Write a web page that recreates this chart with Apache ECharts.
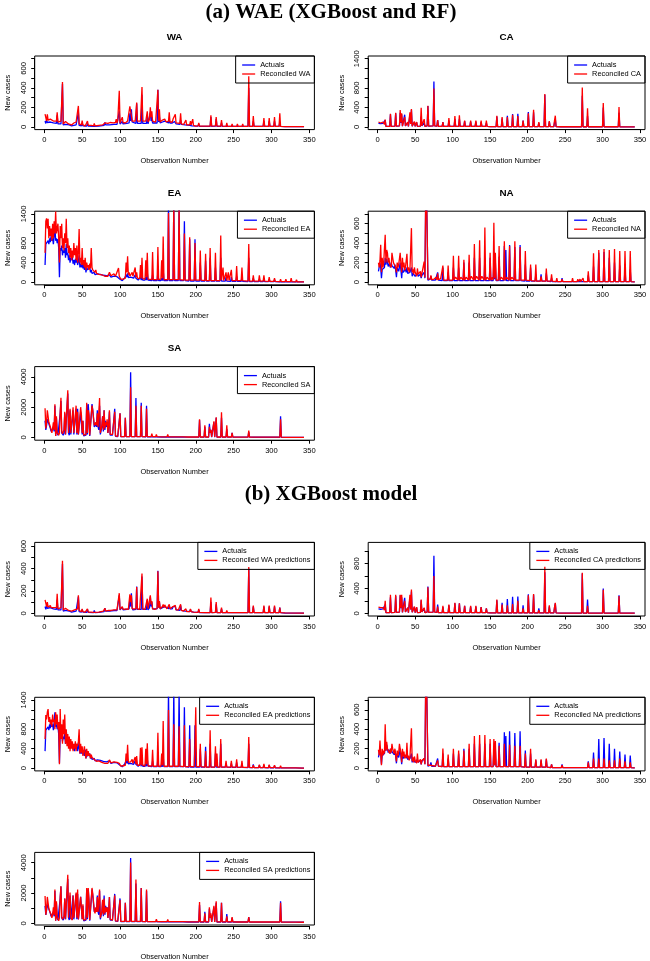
<!DOCTYPE html>
<html>
<head>
<meta charset="utf-8">
<script src="https://cdn.jsdelivr.net/npm/echarts@6/dist/echarts.min.js"></script>
<style>
  html, body { margin: 0; padding: 0; background: #fff; }
  #chart { width: 650px; height: 961px; }
</style>
</head>
<body>
<div id="chart"></div>
<script>
// observation axis
var obsRange = [1, 343];
var xTicks = [0, 50, 100, 150, 200, 250, 300, 350];

// y ticks / labelled ticks
var yTicks700 = [0, 100, 200, 300, 400, 500, 600, 700];
var yTicks600 = [0, 100, 200, 300, 400, 500, 600];
var yLab200 = [0, 200, 400, 600];
var yTicks1400 = [0, 200, 400, 600, 800, 1000, 1200, 1400];
var yLab1400 = [0, 400, 800, 1400];
var yTicks1000 = [0, 200, 400, 600, 800, 1000];
var yLab1000 = [0, 400, 800];
var yTicks4000 = [0, 1000, 2000, 3000, 4000];
var yLab4000 = [0, 2000, 4000];

// series: flat lists of observation, value
var waActual = [1,60, 2,35, 3,70, 4,45, 6,40, 8,50, 10,35, 12,40, 14,30, 16,35, 17,120, 18,30, 20,25, 22,30, 23,25, 24,440, 25,20, 28,25, 30,15, 33,20, 36,10, 39,15, 42,20, 44,25, 45,150, 46,15, 49,10, 50,35, 51,10, 56,8, 57,35, 58,8, 65,5, 66,25, 67,5, 72,8, 73,25, 74,8, 79,15, 80,45, 81,20, 86,20, 87,30, 88,20, 92,25, 94,35, 96,25, 98,35, 99,160, 100,30, 102,35, 103,55, 104,30, 109,35, 110,45, 111,30, 112,40, 113,140, 114,60, 115,180, 116,50, 117,30, 121,35, 122,240, 123,35, 128,35, 129,330, 130,35, 135,35, 136,120, 137,30, 139,50, 140,150, 141,60, 142,100, 143,40, 149,40, 150,380, 151,50, 152,100, 153,40, 156,50, 157,60, 158,40, 159,60, 160,45, 164,40, 165,70, 166,40, 169,40, 170,60, 171,45, 172,55, 173,60, 174,30, 179,25, 180,70, 181,25, 186,20, 187,35, 188,15, 192,15, 193,35, 194,15, 195,10, 196,25, 197,10, 203,8, 204,30, 205,5, 212,5, 213,10, 214,5, 219,5, 220,100, 221,5, 226,8, 227,80, 228,5, 233,5, 234,40, 235,5, 240,5, 241,20, 242,5, 247,5, 248,15, 249,5, 254,5, 255,15, 256,5, 261,5, 262,15, 263,5, 269,5, 270,400, 271,5, 275,5, 276,60, 277,5, 283,5, 284,15, 285,5, 289,5, 290,60, 291,5, 296,5, 297,60, 298,5, 303,5, 304,60, 305,5, 310,5, 311,50, 312,5, 318,2, 319,10, 320,2, 343,2];
var waRecA = [1,130, 2,120, 3,60, 4,130, 5,70, 6,60, 8,80, 9,60, 10,70, 12,60, 13,45, 14,55, 16,60, 17,150, 18,50, 20,50, 22,60, 23,40, 24,460, 25,30, 26,40, 28,55, 30,40, 32,30, 34,35, 36,20, 38,25, 39,40, 41,35, 42,50, 43,30, 44,60, 45,215, 46,30, 48,30, 49,20, 50,65, 51,20, 54,10, 56,20, 57,60, 58,15, 62,15, 65,10, 66,35, 67,10, 72,15, 73,35, 74,10, 77,20, 79,30, 80,40, 81,25, 84,35, 86,25, 87,45, 88,30, 91,40, 93,30, 94,45, 95,80, 96,40, 97,70, 98,60, 99,370, 100,40, 101,50, 102,45, 103,100, 104,45, 106,60, 107,40, 110,60, 111,40, 112,60, 113,210, 114,200, 115,210, 116,60, 117,40, 120,60, 121,50, 122,250, 123,60, 124,45, 127,60, 128,50, 129,410, 130,60, 131,45, 134,60, 135,50, 136,160, 137,50, 138,60, 139,80, 140,200, 141,100, 142,160, 143,60, 144,45, 147,50, 149,60, 150,380, 151,60, 152,180, 153,50, 154,40, 156,70, 157,80, 158,60, 159,80, 160,70, 161,50, 164,60, 165,150, 166,50, 169,50, 170,80, 171,60, 172,70, 173,130, 174,40, 176,35, 179,35, 180,140, 181,30, 184,25, 186,30, 187,70, 188,20, 190,20, 192,20, 193,60, 194,20, 195,15, 196,80, 197,15, 200,8, 203,10, 204,40, 205,8, 212,8, 213,15, 214,8, 219,8, 220,120, 221,8, 226,10, 227,100, 228,8, 233,8, 234,70, 235,8, 240,5, 241,40, 242,5, 247,5, 248,30, 249,5, 254,5, 255,30, 256,5, 261,5, 262,30, 263,5, 269,5, 270,520, 271,5, 275,5, 276,110, 277,5, 283,5, 284,20, 285,5, 289,5, 290,90, 291,5, 296,5, 297,90, 298,5, 303,5, 304,100, 305,5, 310,5, 311,140, 312,5, 318,3, 319,15, 320,3, 343,2];
var waRecB = [1,120, 2,90, 3,60, 4,100, 5,55, 6,50, 8,70, 9,50, 10,60, 12,50, 14,45, 16,50, 17,175, 18,40, 20,45, 22,50, 23,35, 24,470, 25,30, 27,25, 28,45, 30,30, 32,25, 34,30, 36,20, 38,25, 40,30, 42,35, 44,40, 45,160, 46,25, 48,20, 49,15, 50,40, 51,15, 54,10, 56,15, 57,40, 58,10, 62,10, 65,8, 66,25, 67,8, 72,10, 73,25, 74,10, 78,20, 79,25, 80,45, 81,20, 85,25, 86,20, 87,35, 88,25, 92,30, 94,35, 96,30, 97,40, 98,45, 99,180, 100,35, 102,40, 103,60, 104,35, 108,40, 110,50, 111,35, 112,50, 113,170, 114,100, 115,160, 116,40, 118,35, 121,40, 122,235, 123,40, 126,35, 128,40, 129,355, 130,40, 133,35, 135,40, 136,130, 137,40, 139,50, 140,160, 141,80, 142,110, 143,40, 146,35, 149,45, 150,375, 151,50, 152,110, 153,40, 155,40, 156,60, 157,80, 158,50, 159,75, 160,60, 162,40, 164,50, 165,80, 166,40, 168,40, 170,60, 171,45, 172,55, 173,70, 174,30, 177,30, 179,30, 180,80, 181,25, 184,20, 186,20, 187,40, 188,15, 192,15, 193,40, 194,15, 195,10, 196,30, 197,10, 203,8, 204,40, 205,8, 212,5, 213,15, 214,5, 219,5, 220,140, 221,5, 226,8, 227,100, 228,5, 233,5, 234,50, 235,5, 240,5, 241,25, 242,5, 247,5, 248,20, 249,5, 254,5, 255,20, 256,5, 261,5, 262,20, 263,5, 269,5, 270,415, 271,5, 275,5, 276,70, 277,5, 283,5, 284,15, 285,5, 289,5, 290,70, 291,5, 296,5, 297,70, 298,5, 303,5, 304,70, 305,5, 310,5, 311,50, 312,5, 318,3, 319,10, 320,3, 343,2];

var caActual = [1,70, 2,60, 3,75, 4,65, 5,80, 6,60, 7,70, 8,90, 9,40, 10,140, 11,10, 16,10, 17,260, 18,10, 23,15, 24,280, 25,15, 29,20, 30,290, 31,80, 32,260, 33,15, 35,20, 36,250, 37,20, 39,15, 40,90, 41,10, 42,20, 43,250, 44,60, 45,350, 46,15, 48,10, 49,100, 50,10, 51,15, 52,90, 53,10, 57,15, 58,210, 59,20, 60,10, 61,40, 62,80, 63,10, 66,20, 67,430, 68,15, 74,20, 75,930, 76,20, 79,15, 80,140, 81,10, 86,10, 87,100, 88,10, 94,10, 95,130, 96,10, 102,10, 103,160, 104,10, 108,10, 109,160, 110,10, 115,10, 116,120, 117,10, 123,10, 124,110, 125,10, 130,10, 131,110, 132,10, 137,10, 138,100, 139,10, 144,10, 145,80, 146,10, 150,5, 151,15, 152,5, 158,5, 159,210, 160,5, 165,5, 166,170, 167,5, 172,5, 173,230, 174,5, 179,5, 180,265, 181,5, 186,5, 187,270, 188,5, 193,5, 194,130, 195,5, 200,5, 201,305, 202,5, 207,5, 208,300, 209,5, 214,5, 215,80, 216,5, 222,5, 223,660, 224,5, 228,5, 229,110, 230,5, 235,5, 236,100, 237,160, 238,5, 244,3, 245,10, 246,3, 251,3, 252,10, 253,3, 272,3, 273,640, 274,3, 279,3, 280,220, 281,3, 286,3, 287,25, 288,3, 293,3, 294,30, 295,3, 300,3, 301,400, 302,3, 308,3, 309,20, 310,3, 315,3, 316,10, 317,3, 321,3, 322,290, 323,3, 343,2];
var caRecA = [1,100, 2,90, 3,110, 4,80, 5,100, 6,70, 7,100, 8,120, 9,50, 10,150, 11,10, 16,10, 17,270, 18,10, 23,15, 24,290, 25,15, 29,20, 30,345, 31,90, 32,280, 33,15, 35,20, 36,200, 37,20, 39,15, 40,100, 41,10, 42,20, 43,300, 44,60, 45,366, 46,15, 48,10, 49,110, 50,10, 51,15, 52,100, 53,10, 57,15, 58,393, 59,20, 60,10, 61,50, 62,160, 63,10, 66,20, 67,435, 68,15, 74,20, 75,790, 76,20, 79,15, 80,140, 81,10, 86,10, 87,100, 88,10, 94,10, 95,180, 96,10, 102,10, 103,220, 104,10, 108,10, 109,240, 110,10, 115,10, 116,130, 117,10, 123,10, 124,130, 125,10, 130,10, 131,130, 132,10, 137,10, 138,130, 139,10, 144,10, 145,130, 146,10, 150,5, 151,20, 152,5, 158,5, 159,230, 160,5, 165,5, 166,200, 167,5, 172,5, 173,200, 174,5, 179,5, 180,250, 181,5, 186,5, 187,220, 188,5, 193,5, 194,130, 195,5, 200,5, 201,280, 202,5, 207,5, 208,350, 209,5, 214,5, 215,100, 216,5, 222,5, 223,676, 224,5, 228,5, 229,120, 230,5, 235,5, 236,140, 237,230, 238,5, 244,3, 245,10, 246,3, 251,3, 252,15, 253,3, 272,3, 273,807, 274,3, 279,3, 280,380, 281,3, 286,3, 287,30, 288,3, 293,3, 294,40, 295,3, 300,3, 301,490, 302,3, 308,3, 309,30, 310,3, 315,3, 316,30, 317,3, 321,3, 322,407, 323,3, 343,2];
var caRecB = [1,100, 2,80, 3,130, 4,90, 5,110, 6,80, 7,90, 8,110, 9,50, 10,200, 11,10, 16,10, 17,300, 18,10, 23,15, 24,300, 25,15, 29,20, 30,300, 31,90, 32,300, 33,15, 35,20, 36,200, 37,20, 39,15, 40,90, 41,10, 42,20, 43,300, 44,60, 45,384, 46,15, 48,10, 49,110, 50,10, 51,15, 52,100, 53,10, 57,15, 58,220, 59,20, 60,10, 61,40, 62,90, 63,10, 66,20, 67,420, 68,15, 74,20, 75,600, 76,20, 79,15, 80,110, 81,10, 86,10, 87,120, 88,10, 94,10, 95,140, 96,10, 102,10, 103,170, 104,10, 108,10, 109,160, 110,10, 115,10, 116,120, 117,10, 123,10, 124,120, 125,10, 130,10, 131,120, 132,10, 137,10, 138,100, 139,10, 144,10, 145,80, 146,10, 150,5, 151,20, 152,5, 158,5, 159,220, 160,5, 165,5, 166,140, 167,5, 172,5, 173,130, 174,5, 179,5, 180,150, 181,5, 186,5, 187,200, 188,5, 193,5, 194,80, 195,5, 200,5, 201,290, 202,5, 207,5, 208,310, 209,5, 214,5, 215,50, 216,5, 222,5, 223,750, 224,5, 228,5, 229,130, 230,5, 235,5, 236,100, 237,170, 238,5, 244,3, 245,10, 246,3, 251,3, 252,10, 253,3, 272,3, 273,654, 274,3, 279,3, 280,120, 281,3, 286,3, 287,30, 288,3, 293,3, 294,30, 295,3, 300,3, 301,380, 302,3, 308,3, 309,20, 310,3, 315,3, 316,10, 317,3, 321,3, 322,280, 323,3, 343,2];

var eaActual = [1,350, 2,780, 3,820, 4,800, 5,850, 6,780, 7,900, 8,820, 9,950, 10,850, 11,900, 12,780, 13,950, 14,1150, 15,850, 16,900, 17,800, 18,880, 19,700, 20,100, 21,700, 22,650, 23,750, 24,550, 25,650, 26,600, 27,700, 28,500, 29,780, 30,550, 31,600, 32,450, 33,550, 34,400, 35,500, 36,450, 37,520, 38,380, 39,450, 40,350, 41,480, 42,400, 43,500, 44,350, 45,420, 46,550, 47,300, 48,380, 49,300, 50,420, 51,280, 52,350, 53,250, 54,380, 55,200, 56,300, 57,250, 58,280, 59,220, 60,300, 61,200, 62,250, 63,180, 64,220, 65,160, 66,200, 67,150, 68,180, 69,140, 70,170, 72,130, 74,160, 76,120, 78,140, 80,100, 82,130, 84,90, 86,150, 88,100, 90,80, 92,120, 94,90, 96,110, 98,120, 100,60, 101,40, 102,50, 103,30, 104,50, 105,40, 106,80, 107,60, 108,150, 109,100, 110,180, 111,90, 112,120, 114,100, 116,130, 118,80, 120,150, 121,80, 122,120, 123,60, 124,40, 126,60, 127,100, 128,40, 129,150, 130,40, 133,40, 134,100, 135,40, 136,200, 137,40, 142,30, 143,150, 144,30, 149,30, 150,200, 151,30, 154,30, 155,80, 156,30, 157,250, 158,30, 163,30, 164,1600, 165,30, 170,30, 171,1600, 172,30, 177,30, 178,1600, 179,30, 184,30, 185,1250, 186,30, 191,20, 192,880, 193,20, 198,20, 199,880, 200,20, 205,20, 206,400, 207,20, 212,20, 213,440, 214,20, 218,20, 219,500, 220,20, 225,20, 226,300, 227,20, 232,20, 233,500, 234,20, 239,20, 240,100, 241,20, 246,15, 247,100, 248,15, 253,15, 254,120, 255,15, 260,15, 261,100, 262,15, 269,10, 270,500, 271,10, 275,10, 276,80, 277,10, 283,10, 284,60, 285,10, 289,10, 290,60, 291,10, 296,8, 297,60, 298,8, 303,8, 304,50, 305,8, 311,5, 312,40, 313,5, 318,5, 319,40, 320,5, 325,5, 326,40, 327,5, 332,5, 333,30, 334,5, 339,3, 340,15, 341,3, 343,3];
var eaRecA = [1,600, 2,1250, 3,1310, 4,1100, 5,1300, 6,900, 7,1150, 8,950, 9,1100, 10,850, 11,1200, 12,900, 13,1250, 14,1000, 15,1450, 16,1000, 17,1100, 18,1200, 19,900, 20,400, 21,1150, 22,900, 23,1200, 24,700, 25,900, 26,650, 27,1000, 28,800, 29,1300, 30,700, 31,900, 32,600, 33,750, 34,500, 35,700, 36,450, 37,650, 38,500, 39,800, 40,550, 41,700, 42,450, 43,750, 44,400, 45,600, 46,1090, 47,400, 48,500, 49,350, 50,700, 51,350, 52,450, 53,300, 54,500, 55,250, 56,400, 57,300, 58,350, 59,250, 60,380, 61,280, 62,700, 63,300, 64,250, 65,220, 66,280, 67,200, 68,250, 69,180, 70,200, 72,160, 74,190, 76,150, 78,170, 80,120, 82,160, 84,120, 86,200, 88,130, 90,110, 92,170, 94,120, 96,150, 98,290, 99,120, 100,80, 101,60, 102,70, 103,40, 104,60, 105,50, 106,100, 107,80, 108,400, 109,200, 110,530, 111,150, 112,200, 113,120, 114,150, 115,100, 116,200, 117,120, 118,150, 119,100, 120,300, 121,100, 122,200, 123,80, 124,60, 125,80, 126,70, 127,350, 128,80, 129,500, 130,70, 131,50, 133,60, 134,450, 135,100, 136,600, 137,60, 142,50, 143,620, 144,50, 149,50, 150,720, 151,50, 154,60, 155,450, 156,80, 157,935, 158,50, 163,50, 164,1420, 165,50, 170,50, 171,1600, 172,50, 177,50, 178,1600, 179,50, 184,40, 185,1000, 186,40, 191,40, 192,920, 193,40, 198,40, 199,800, 200,40, 205,40, 206,650, 207,40, 212,30, 213,580, 214,30, 218,30, 219,700, 220,30, 225,30, 226,600, 227,30, 232,30, 233,955, 234,40, 235,40, 236,300, 237,30, 239,30, 240,200, 241,30, 242,30, 243,200, 244,30, 246,30, 247,250, 248,30, 253,30, 254,330, 255,30, 260,30, 261,300, 262,30, 269,20, 270,780, 271,20, 275,20, 276,140, 277,20, 283,20, 284,140, 285,20, 289,20, 290,140, 291,20, 296,15, 297,100, 298,15, 303,15, 304,80, 305,15, 311,10, 312,60, 313,10, 318,10, 319,60, 320,10, 325,10, 326,80, 327,10, 332,5, 333,50, 334,5, 339,5, 340,20, 341,5, 343,5];
var eaRecB = [1,600, 2,1090, 3,1000, 4,1150, 5,1215, 6,950, 7,1050, 8,900, 9,1000, 10,850, 11,1100, 12,950, 13,1000, 14,800, 15,1150, 16,900, 17,1100, 18,800, 19,950, 20,82, 21,1215, 22,600, 23,900, 24,500, 25,1000, 26,700, 27,1100, 28,500, 29,800, 30,450, 31,700, 32,400, 33,650, 34,350, 35,600, 36,400, 37,550, 38,350, 39,500, 40,400, 41,550, 42,350, 43,500, 44,450, 45,550, 46,800, 47,300, 48,500, 49,320, 50,450, 51,250, 52,350, 53,450, 54,280, 55,200, 56,400, 57,250, 58,350, 59,250, 60,300, 61,200, 62,280, 63,220, 64,250, 65,200, 66,180, 67,160, 68,200, 69,140, 70,160, 72,150, 74,180, 76,120, 78,150, 80,100, 82,140, 84,100, 86,170, 88,110, 90,90, 92,130, 94,100, 96,120, 98,130, 99,100, 100,60, 101,40, 102,50, 103,30, 104,50, 105,40, 106,80, 107,60, 108,300, 109,150, 110,480, 111,120, 112,150, 113,100, 114,130, 115,90, 116,180, 117,100, 118,120, 119,80, 120,230, 121,80, 122,250, 123,60, 124,50, 125,70, 126,60, 127,420, 128,60, 129,430, 130,60, 131,40, 133,50, 134,400, 135,80, 136,512, 137,50, 142,40, 143,380, 144,40, 149,40, 150,730, 151,40, 154,40, 155,300, 156,60, 157,970, 158,40, 163,40, 164,1195, 165,40, 170,40, 171,900, 172,40, 177,40, 178,860, 179,40, 184,30, 185,880, 186,30, 191,30, 192,600, 193,30, 198,30, 199,500, 200,1250, 201,30, 205,30, 206,500, 207,30, 212,20, 213,350, 214,20, 218,20, 219,780, 220,20, 225,20, 226,450, 227,30, 228,300, 229,20, 232,20, 233,600, 234,20, 239,20, 240,150, 241,20, 246,20, 247,150, 248,20, 253,20, 254,180, 255,20, 260,15, 261,150, 262,15, 269,15, 270,640, 271,15, 275,10, 276,60, 277,10, 283,10, 284,70, 285,10, 289,10, 290,90, 291,10, 296,10, 297,70, 298,10, 303,10, 304,60, 305,10, 311,8, 312,50, 313,8, 318,8, 319,40, 320,8, 325,5, 326,40, 327,5, 332,5, 333,40, 334,5, 343,3];

var naActual = [1,110, 2,120, 3,200, 4,150, 5,40, 6,130, 7,140, 8,120, 9,150, 10,250, 11,180, 12,240, 13,200, 14,160, 15,190, 16,180, 17,150, 18,200, 19,170, 20,190, 21,160, 22,140, 23,180, 24,120, 25,50, 26,150, 27,130, 28,110, 29,150, 30,200, 31,120, 32,40, 33,150, 34,100, 35,120, 36,80, 37,130, 38,100, 39,150, 40,90, 41,110, 42,70, 43,100, 44,80, 45,150, 46,60, 47,90, 48,70, 49,100, 50,60, 51,80, 52,50, 53,90, 54,60, 55,70, 56,50, 57,80, 58,40, 59,70, 60,50, 61,60, 62,100, 63,40, 64,800, 65,1000, 66,1000, 67,20, 70,30, 71,60, 72,20, 77,20, 78,40, 79,20, 80,100, 81,20, 86,15, 87,150, 88,15, 93,15, 94,100, 95,15, 100,15, 101,150, 102,15, 107,15, 108,150, 109,15, 114,15, 115,200, 116,15, 121,15, 122,200, 123,15, 128,15, 129,250, 130,15, 135,15, 136,250, 137,15, 142,15, 143,250, 144,15, 149,15, 150,250, 151,15, 154,15, 155,200, 156,30, 157,200, 158,15, 161,15, 162,260, 163,15, 168,15, 169,370, 170,15, 171,330, 172,15, 175,15, 176,380, 177,15, 182,15, 183,360, 184,15, 189,15, 190,380, 191,15, 196,10, 197,180, 198,10, 203,10, 204,150, 205,10, 210,10, 211,80, 212,10, 217,10, 218,80, 219,10, 224,10, 225,90, 226,10, 231,5, 232,40, 233,5, 238,5, 239,20, 240,5, 245,5, 246,40, 247,5, 252,5, 253,20, 254,5, 259,5, 260,20, 261,5, 266,5, 267,20, 268,5, 273,5, 274,20, 275,5, 280,5, 281,70, 282,5, 287,5, 288,160, 289,5, 294,5, 295,300, 296,5, 301,5, 302,310, 303,5, 308,5, 309,250, 310,5, 315,5, 316,200, 317,5, 322,5, 323,170, 324,5, 329,5, 330,140, 331,5, 336,5, 337,130, 338,5, 343,3];
var naRecA = [1,200, 2,150, 3,220, 4,383, 5,100, 6,250, 7,150, 8,200, 9,180, 10,485, 11,200, 12,330, 13,300, 14,200, 15,250, 16,180, 17,200, 18,150, 19,300, 20,250, 21,200, 22,180, 23,220, 24,150, 25,100, 26,200, 27,150, 28,180, 29,200, 30,300, 31,180, 32,100, 33,250, 34,150, 35,200, 36,120, 37,150, 38,130, 39,290, 40,120, 41,150, 42,100, 43,130, 44,120, 45,554, 46,100, 47,130, 48,80, 49,150, 50,100, 51,120, 52,60, 53,140, 54,80, 55,100, 56,60, 57,110, 58,50, 59,90, 60,70, 61,80, 62,210, 63,50, 64,850, 65,1000, 66,1000, 67,30, 69,40, 70,30, 71,70, 72,25, 75,30, 77,25, 78,50, 79,20, 80,90, 81,25, 84,35, 86,20, 87,170, 88,20, 90,40, 93,20, 94,170, 95,20, 97,40, 100,20, 101,270, 102,25, 104,50, 107,20, 108,270, 109,20, 111,50, 114,20, 115,230, 116,20, 118,50, 121,20, 122,280, 123,20, 125,60, 128,20, 129,390, 130,20, 132,60, 135,20, 136,430, 137,20, 139,60, 142,20, 143,560, 144,20, 146,50, 149,20, 150,300, 151,20, 153,50, 154,20, 155,610, 156,40, 157,300, 158,20, 161,20, 162,370, 163,20, 165,50, 168,20, 169,420, 170,20, 172,50, 175,20, 176,370, 177,20, 179,50, 182,20, 183,420, 184,20, 186,40, 189,20, 190,360, 191,20, 193,40, 196,20, 197,320, 198,20, 203,15, 204,180, 205,15, 210,10, 211,180, 212,10, 217,10, 218,60, 219,10, 224,10, 225,140, 226,10, 231,10, 232,80, 233,10, 238,5, 239,40, 240,5, 245,5, 246,30, 247,5, 252,5, 253,20, 254,5, 259,5, 260,40, 261,5, 266,5, 267,30, 268,5, 269,5, 270,30, 271,5, 273,5, 274,40, 275,5, 280,5, 281,110, 282,5, 287,5, 288,297, 289,5, 294,5, 295,330, 296,5, 301,5, 302,340, 303,5, 308,5, 309,330, 310,5, 315,5, 316,340, 317,5, 322,5, 323,320, 324,5, 329,5, 330,320, 331,5, 336,5, 337,320, 338,5, 343,3];
var naRecB = [1,190, 2,130, 3,284, 4,150, 5,30, 6,200, 7,130, 8,180, 9,150, 10,451, 11,180, 12,270, 13,200, 14,180, 15,220, 16,150, 17,200, 18,160, 19,250, 20,200, 21,180, 22,150, 23,200, 24,130, 25,70, 26,180, 27,130, 28,160, 29,250, 30,200, 31,150, 32,60, 33,200, 34,120, 35,170, 36,100, 37,140, 38,110, 39,260, 40,100, 41,130, 42,80, 43,110, 44,100, 45,410, 46,70, 47,110, 48,60, 49,120, 50,80, 51,100, 52,50, 53,150, 54,60, 55,80, 56,50, 57,90, 58,40, 59,80, 60,60, 61,70, 62,100, 63,40, 64,850, 65,1000, 66,1000, 67,30, 70,30, 71,50, 72,20, 77,20, 78,40, 79,15, 80,80, 81,20, 86,15, 87,202, 88,15, 93,15, 94,140, 95,15, 100,15, 101,200, 102,15, 107,15, 108,180, 109,15, 114,15, 115,180, 116,15, 121,15, 122,250, 123,15, 128,15, 129,330, 130,15, 135,15, 136,340, 137,15, 142,15, 143,340, 144,15, 149,15, 150,300, 151,15, 154,15, 155,300, 156,30, 157,280, 158,15, 161,15, 162,230, 163,15, 168,15, 169,250, 170,15, 175,15, 176,240, 177,15, 182,15, 183,230, 184,15, 189,15, 190,230, 191,15, 196,10, 197,150, 198,10, 203,10, 204,200, 205,10, 210,10, 211,90, 212,10, 217,10, 218,90, 219,10, 224,10, 225,100, 226,10, 231,5, 232,40, 233,5, 238,5, 239,20, 240,5, 245,5, 246,30, 247,5, 252,5, 253,20, 254,5, 259,5, 260,20, 261,5, 266,5, 267,20, 268,5, 273,5, 274,20, 275,5, 280,5, 281,60, 282,5, 287,5, 288,100, 289,5, 294,5, 295,100, 296,5, 301,5, 302,100, 303,5, 308,5, 309,80, 310,5, 315,5, 316,80, 317,5, 322,5, 323,100, 324,5, 329,5, 330,70, 331,5, 336,5, 337,60, 338,5, 343,3];

var saActual = [1,1100, 2,500, 3,800, 4,1200, 5,1200, 6,900, 7,1000, 8,600, 9,400, 10,300, 11,500, 12,700, 13,400, 14,2100, 15,100, 16,1300, 17,300, 18,150, 19,100, 20,200, 21,1600, 22,2400, 23,300, 24,200, 25,150, 26,300, 27,1600, 28,200, 29,100, 30,150, 31,2900, 32,300, 33,150, 34,1800, 35,200, 36,150, 37,100, 38,1800, 39,200, 40,300, 41,150, 42,1900, 43,200, 44,1900, 45,200, 46,150, 47,100, 48,1700, 49,1700, 50,200, 51,1100, 52,100, 53,80, 54,100, 55,150, 56,2200, 57,200, 58,2200, 59,1400, 60,100, 61,80, 62,100, 63,2200, 64,1800, 65,1800, 66,700, 67,600, 68,900, 69,700, 70,1800, 71,700, 72,500, 73,2100, 74,200, 75,300, 76,700, 77,1400, 78,400, 79,1800, 80,500, 81,1100, 82,700, 83,1000, 84,300, 85,800, 86,1700, 87,150, 88,100, 89,100, 90,150, 91,80, 92,100, 93,1900, 94,80, 95,60, 96,50, 97,60, 98,50, 99,80, 100,1600, 101,50, 106,50, 107,1300, 108,50, 113,50, 114,4300, 115,50, 120,50, 121,2600, 122,50, 127,50, 128,2300, 129,50, 134,40, 135,2100, 136,40, 141,40, 142,150, 143,40, 147,40, 148,150, 149,40, 155,30, 156,50, 157,30, 162,30, 163,150, 164,30, 169,30, 170,120, 171,30, 176,30, 177,80, 178,30, 183,30, 184,80, 185,30, 190,20, 191,60, 192,20, 197,20, 198,100, 199,20, 204,20, 205,1150, 206,20, 211,20, 212,700, 213,20, 217,20, 218,900, 219,300, 220,500, 221,20, 223,20, 224,1000, 225,20, 226,20, 227,1300, 228,20, 233,20, 234,1300, 235,20, 240,20, 241,550, 242,20, 247,20, 248,300, 249,20, 255,20, 256,50, 257,20, 262,20, 263,50, 264,20, 269,20, 270,350, 271,20, 276,15, 277,50, 278,15, 290,15, 291,50, 292,15, 304,15, 305,100, 306,15, 311,15, 312,1400, 313,15, 318,10, 319,50, 320,10, 325,10, 326,50, 327,10, 332,10, 333,80, 334,10, 343,5];
var saRecA = [1,1930, 2,600, 3,1000, 4,1800, 5,1820, 6,1000, 7,1000, 8,700, 9,500, 10,310, 11,600, 12,1000, 13,500, 14,2200, 15,100, 16,1400, 17,300, 18,200, 19,150, 20,300, 21,1700, 22,2620, 23,400, 24,250, 25,200, 26,500, 27,1700, 28,200, 29,100, 30,300, 31,3110, 32,300, 33,200, 34,1900, 35,300, 36,200, 37,200, 38,2000, 39,300, 40,400, 41,200, 42,2100, 43,300, 44,1700, 45,200, 46,200, 47,150, 48,2000, 49,1500, 50,300, 51,1100, 52,150, 53,100, 54,100, 55,200, 56,2300, 57,300, 58,1800, 59,1500, 60,150, 61,100, 62,100, 63,2100, 64,1800, 65,1700, 66,800, 67,700, 68,1000, 69,800, 70,1600, 71,700, 72,600, 73,2600, 74,300, 75,400, 76,800, 77,1400, 78,500, 79,1800, 80,600, 81,1000, 82,800, 83,1200, 84,300, 85,800, 86,1800, 87,200, 88,150, 89,100, 90,200, 91,100, 92,120, 93,1700, 94,100, 95,80, 96,60, 97,80, 98,60, 99,100, 100,1600, 101,60, 106,60, 107,1300, 108,60, 113,60, 114,3310, 115,60, 120,60, 121,2100, 122,60, 127,60, 128,2100, 129,60, 134,50, 135,1900, 136,50, 141,50, 142,250, 143,50, 147,50, 148,200, 149,50, 155,40, 156,60, 157,40, 162,40, 163,200, 164,40, 169,40, 170,150, 171,40, 176,40, 177,80, 178,40, 183,40, 184,80, 185,40, 190,30, 191,60, 192,30, 197,30, 198,60, 199,30, 204,30, 205,1200, 206,30, 211,30, 212,800, 213,30, 217,30, 218,700, 219,300, 220,500, 221,30, 223,30, 224,1070, 225,30, 226,30, 227,1330, 228,30, 233,30, 234,1670, 235,30, 240,30, 241,800, 242,30, 247,30, 248,300, 249,30, 255,20, 256,50, 257,20, 262,20, 263,50, 264,20, 269,20, 270,450, 271,20, 276,20, 277,50, 278,20, 290,20, 291,50, 292,20, 304,20, 305,80, 306,20, 311,20, 312,1200, 313,20, 318,10, 319,50, 320,10, 325,10, 326,50, 327,10, 332,10, 333,100, 334,10, 343,5];
var saRecB = [1,1760, 2,500, 3,900, 4,1700, 5,1700, 6,900, 7,1000, 8,800, 9,500, 10,300, 11,500, 12,1000, 13,500, 14,2200, 15,100, 16,1400, 17,300, 18,200, 19,100, 20,300, 21,1700, 22,2420, 23,400, 24,200, 25,200, 26,400, 27,1600, 28,200, 29,100, 30,200, 31,3190, 32,300, 33,200, 34,2000, 35,300, 36,200, 37,150, 38,1800, 39,300, 40,300, 41,200, 42,2000, 43,300, 44,2200, 45,200, 46,150, 47,150, 48,1700, 49,1800, 50,200, 51,1200, 52,150, 53,100, 54,100, 55,200, 56,2300, 57,300, 58,2300, 59,1500, 60,150, 61,100, 62,100, 63,2300, 64,1900, 65,1900, 66,800, 67,600, 68,1000, 69,700, 70,1700, 71,700, 72,600, 73,2200, 74,300, 75,400, 76,700, 77,1500, 78,500, 79,1600, 80,600, 81,1000, 82,700, 83,1000, 84,300, 85,800, 86,1700, 87,200, 88,150, 89,100, 90,150, 91,100, 92,100, 93,1800, 94,100, 95,80, 96,60, 97,80, 98,60, 99,100, 100,1500, 101,60, 106,60, 107,1300, 108,60, 113,60, 114,4000, 115,60, 120,60, 121,2860, 122,60, 127,60, 128,2300, 129,60, 134,50, 135,2200, 136,50, 141,50, 142,150, 143,50, 147,50, 148,200, 149,50, 155,40, 156,60, 157,40, 162,40, 163,200, 164,40, 169,40, 170,150, 171,40, 176,40, 177,100, 178,40, 183,40, 184,100, 185,40, 190,30, 191,60, 192,30, 197,30, 198,50, 199,30, 204,30, 205,1360, 206,30, 211,30, 212,600, 213,30, 217,30, 218,1000, 219,300, 220,600, 221,30, 223,30, 224,1100, 225,30, 226,30, 227,1400, 228,30, 233,30, 234,1300, 235,30, 240,30, 241,400, 242,30, 247,30, 248,350, 249,30, 255,20, 256,50, 257,20, 262,20, 263,50, 264,20, 269,20, 270,350, 271,20, 276,20, 277,50, 278,20, 290,20, 291,50, 292,20, 304,20, 305,60, 306,20, 311,20, 312,1300, 313,20, 318,10, 319,50, 320,10, 325,10, 326,50, 327,10, 332,10, 333,80, 334,10, 343,5];

var sectionTitles = ['(a) WAE (XGBoost and RF)', '(b) XGBoost model'];

var panels = [
  {title: 'WA', act: waActual, rec: waRecA, recName: 'Reconciled WA', row: 0, col: 0, yLim: 700, yTicks: yTicks700, yLabels: yLab200},
  {title: 'CA', act: caActual, rec: caRecA, recName: 'Reconciled CA', row: 0, col: 1, yLim: 1400, yTicks: yTicks1400, yLabels: yLab1400},
  {title: 'EA', act: eaActual, rec: eaRecA, recName: 'Reconciled EA', row: 1, col: 0, yLim: 1400, yTicks: yTicks1400, yLabels: yLab1400},
  {title: 'NA', act: naActual, rec: naRecA, recName: 'Reconciled NA', row: 1, col: 1, yLim: 700, yTicks: yTicks700, yLabels: yLab200},
  {title: 'SA', act: saActual, rec: saRecA, recName: 'Reconciled SA', row: 2, col: 0, yLim: 4500, yTicks: yTicks4000, yLabels: yLab4000},
  {title: '', act: waActual, rec: waRecB, recName: 'Reconciled WA predictions', row: 3, col: 0, yLim: 610, yTicks: yTicks600, yLabels: yLab200},
  {title: '', act: caActual, rec: caRecB, recName: 'Reconciled CA predictions', row: 3, col: 1, yLim: 1100, yTicks: yTicks1000, yLabels: yLab1000},
  {title: '', act: eaActual, rec: eaRecB, recName: 'Reconciled EA predictions', row: 4, col: 0, yLim: 1400, yTicks: yTicks1400, yLabels: yLab1400},
  {title: '', act: naActual, rec: naRecB, recName: 'Reconciled NA predictions', row: 4, col: 1, yLim: 700, yTicks: yTicks700, yLabels: yLab200},
  {title: '', act: saActual, rec: saRecB, recName: 'Reconciled SA predictions', row: 5, col: 0, yLim: 4500, yTicks: yTicks4000, yLabels: yLab4000}
];

// layout (pixels)
var colLeft = [34.7, 368.2], colWidth = [279.7, 276.8];
var rowTop = [56, 211.2, 366.6, 542.4, 697.3, 852.4], boxH = 73.6;
var FONT = '"Liberation Sans", Arial, sans-serif';
var BLUE = '#0000ff', RED = '#ff0000';

function toPairs(flat) {
  var out = [];
  for (var i = 0; i < flat.length; i += 2) out.push([flat[i], flat[i + 1]]);
  return out;
}

var grid = [], xAxis = [], yAxis = [], series = [], legend = [], graphic = [];
var blk = '#000';

panels.forEach(function (p) {
  var L = colLeft[p.col], W = colWidth[p.col], T = rowTop[p.row], H = boxH;
  var xPad = (obsRange[1] - obsRange[0]) * 0.04;
  var xMin = obsRange[0] - xPad, xMax = obsRange[1] + xPad;
  var yMin = -0.04 * p.yLim, yMax = 1.04 * p.yLim;

  // plotting box
  var g = grid.length;
  grid.push({left: L, top: T, width: W, height: H, show: true, borderColor: blk, borderWidth: 1, backgroundColor: 'transparent'});
  xAxis.push({gridIndex: g, type: 'value', min: xMin, max: xMax,
    axisLine: {show: false}, axisTick: {show: false}, axisLabel: {show: false}, splitLine: {show: false},
    name: 'Observation Number', nameLocation: 'middle', nameGap: 28,
    nameTextStyle: {fontSize: 7.4, color: blk, fontFamily: FONT}});
  yAxis.push({gridIndex: g, type: 'value', min: yMin, max: yMax,
    axisLine: {show: false}, axisTick: {show: false}, axisLabel: {show: false}, splitLine: {show: false},
    name: 'New cases', nameLocation: 'middle', nameGap: 23, nameRotate: 90,
    nameTextStyle: {fontSize: 7.4, color: blk, fontFamily: FONT}});
  var xi = xAxis.length - 1, yi = yAxis.length - 1;
  series.push({type: 'line', name: 'Actuals', xAxisIndex: xi, yAxisIndex: yi, data: toPairs(p.act),
    symbol: 'none', color: BLUE, lineStyle: {width: 1.3, color: BLUE}, silent: true, clip: true});
  series.push({type: 'line', name: p.recName, xAxisIndex: xi, yAxisIndex: yi, data: toPairs(p.rec),
    symbol: 'none', color: RED, lineStyle: {width: 1.3, color: RED}, silent: true, clip: true});

  // x axis (tick span only)
  var sx = W / (xMax - xMin);
  var x0 = xTicks[0], x1 = xTicks[xTicks.length - 1];
  var gx = grid.length;
  grid.push({left: L + (x0 - xMin) * sx, width: (x1 - x0) * sx, top: T, height: H});
  xAxis.push({gridIndex: gx, type: 'value', min: x0, max: x1, interval: xTicks[1] - xTicks[0], offset: 2.5,
    axisLine: {lineStyle: {color: blk, width: 1}}, axisTick: {length: 3.5, lineStyle: {color: blk, width: 1}},
    axisLabel: {margin: 4, fontSize: 7.6, color: blk, fontFamily: FONT}, splitLine: {show: false}});
  yAxis.push({gridIndex: gx, type: 'value', show: false});

  // y axis (tick span only)
  var sy = H / (yMax - yMin);
  var yt = p.yTicks[p.yTicks.length - 1];
  var topPx = T + (yMax - yt) * sy, botPx = T + yMax * sy;
  var gy = grid.length;
  grid.push({left: L, width: W, top: topPx, height: botPx - topPx});
  xAxis.push({gridIndex: gy, type: 'value', show: false});
  yAxis.push({gridIndex: gy, type: 'value', min: 0, max: yt, interval: p.yTicks[1] - p.yTicks[0], offset: 2.5,
    axisLine: {show: true, lineStyle: {color: blk, width: 1}}, axisTick: {show: true, length: 3.5, lineStyle: {color: blk, width: 1}},
    axisLabel: {rotate: 90, margin: 4.5, fontSize: 7.6, color: blk, fontFamily: FONT,
      formatter: (function (labs) { return function (v) { return labs.indexOf(v) >= 0 ? String(v) : ''; }; })(p.yLabels)},
    splitLine: {show: false}});

  legend.push({
    data: [
      {name: 'Actuals', icon: 'rect', itemStyle: {color: BLUE, borderWidth: 0}, lineStyle: {color: BLUE, width: 0}},
      {name: p.recName, icon: 'rect', itemStyle: {color: RED, borderWidth: 0}, lineStyle: {color: RED, width: 0}}
    ],
    orient: 'vertical', right: 650 - (L + W), top: T,
    backgroundColor: 'transparent', borderColor: blk, borderWidth: 1, borderRadius: 0,
    padding: [4.5, 4, 4.5, 6.5], itemGap: 0, itemWidth: 13, itemHeight: 1.3,
    selectedMode: false, textStyle: {fontSize: 7.4, lineHeight: 9, color: blk, fontFamily: FONT}});

  if (p.title) {
    graphic.push({type: 'text', x: L + W / 2, y: T - 18.3,
      style: {text: p.title, font: 'bold 9.8px ' + FONT, fill: blk, textAlign: 'center', textVerticalAlign: 'middle'}});
  }
});

graphic.push({type: 'text', x: 331, y: 12.5,
  style: {text: sectionTitles[0], font: 'bold 21px "Liberation Serif", "Times New Roman", serif', fill: blk, textAlign: 'center', textVerticalAlign: 'middle'}});
graphic.push({type: 'text', x: 331, y: 495,
  style: {text: sectionTitles[1], font: 'bold 21px "Liberation Serif", "Times New Roman", serif', fill: blk, textAlign: 'center', textVerticalAlign: 'middle'}});

var chart = echarts.init(document.getElementById('chart'), null, {renderer: 'canvas'});
chart.setOption({
  animation: false,
  backgroundColor: '#fff',
  grid: grid, xAxis: xAxis, yAxis: yAxis,
  legend: legend, series: series, graphic: graphic
});
</script>
</body>
</html>
